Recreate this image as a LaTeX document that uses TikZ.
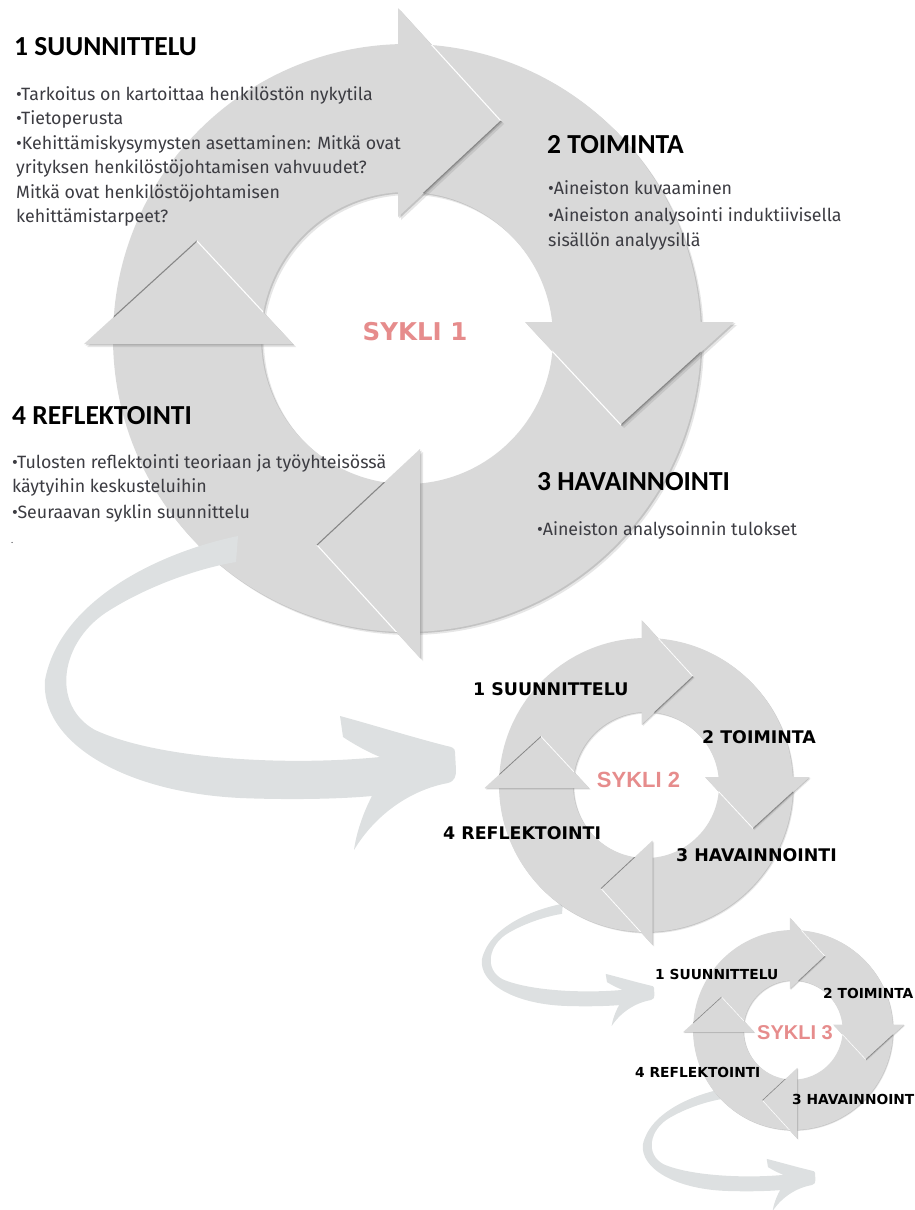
\documentclass[tikz,border=0pt]{standalone}
\usepackage{fontspec}
\setmainfont{Fira Sans}
\newfontfamily\headfont{Carlito}
\newfontfamily\labelfont{DejaVu Sans}
\newfontfamily\namefont{Liberation Sans}
\newfontfamily\bodyfont{Fira Sans}

\definecolor{ringgray}{RGB}{217,217,217}
\definecolor{swooshgray}{RGB}{221,224,225}
\definecolor{shadowgray}{RGB}{90,90,90}
\definecolor{edgedark}{RGB}{135,135,135}
\definecolor{bodygray}{RGB}{60,60,66}
\definecolor{syklipink}{RGB}{230,140,140}

\tikzset{
  heading/.style={anchor=base west, inner sep=0pt, text=black,
    font=\headfont\bfseries\fontsize{27.5}{30}\selectfont},
  bodytext/.style={anchor=base west, inner sep=0pt, text=bodygray,
    font=\bodyfont\fontsize{17.8}{20}\selectfont},
  midlabel/.style={anchor=base west, inner sep=0pt, text=black,
    font=\labelfont\bfseries\fontsize{17.4}{19}\selectfont},
  smalllabel/.style={anchor=base west, inner sep=0pt, text=black,
    font=\labelfont\bfseries\fontsize{13.8}{15}\selectfont},
  cyclename/.style={anchor=base, inner sep=0pt, text=syklipink},
}

% one ring of four curved arrows; #1,#2 centre, #3 scale, #4 edge line width
\newcommand{\cyclering}[4]{%
\begin{scope}[shift={(#1,#2)}, yscale=-1, scale=#3]
  % soft drop shadow of the ring
  \fill[shadowgray, opacity=.15, even odd rule, shift={(3,-3)}] (0,0) circle (294) (0,0) circle (146);
  \fill[shadowgray, opacity=.25, even odd rule, shift={(1.4,-1.4)}] (0,0) circle (294) (0,0) circle (146);
  \fill[ringgray, even odd rule] (0,0) circle (294) (0,0) circle (146);
  \begin{scope}[shift={(2,5)}]
    \foreach \k in {0,1,2,3}{
      \fill[shadowgray, opacity=.15, shift={(3,-3)}, rotate=-90*\k] (-11,325) -- (92,212) -- (-11,116) -- cycle;
      \fill[shadowgray, opacity=.25, shift={(1.4,-1.4)}, rotate=-90*\k] (-11,325) -- (92,212) -- (-11,116) -- cycle;
    }
    \foreach \k in {0,1,2,3}{
      \fill[ringgray, rotate=-90*\k] (-11,325) -- (92,212) -- (-11,116) -- cycle;
    }
  \end{scope}
  % bevel lines on the arrowheads, only where they lie over the ring
  \begin{scope}
    \clip (294,0) arc[start angle=0, end angle=360, radius=294] -- cycle
          (146,0) arc[start angle=360, end angle=0, radius=146] -- cycle;
    \begin{scope}[shift={(2,5)}]
      \foreach \k/\oc/\ic in {0/white/edgedark, 1/edgedark/white, 2/white/edgedark, 3/edgedark/white}{
        \draw[\oc, line width=#4, rotate=-90*\k] (-11,325) -- (92,212);
        \draw[\ic, line width=#4, rotate=-90*\k] (92,212) -- (-11,116);
      }
    \end{scope}
  \end{scope}
\end{scope}}

% sweeping arrow leading to the next cycle; #1,#2 arrow front, #3,#4 scales
\newcommand{\swoosh}[4]{%
  \fill[swooshgray, shift={(#1,#2)}, xscale=#3, yscale=#4]
    (-217,-229) .. controls (-295,-213) and (-395,-165) .. (-410,-85)
    .. controls (-415,-25) and (-335,27) .. (-215,33)
    .. controls (-165,35) and (-115,34) .. (-83,31)
    .. controls (-93,50) and (-99,70) .. (-101,85)
    .. controls (-80,50) and (-45,25) .. (-7,18)
    .. controls (0,16) and (1,11) .. (1,5)
    -- (0,-13) .. controls (0,-17) and (-3,-18) .. (-8,-19)
    .. controls (-40,-27) and (-85,-41) .. (-115,-49)
    -- (-112,-28) .. controls (-100,-20) and (-87,-13) .. (-75,-8)
    .. controls (-165,1) and (-295,-5) .. (-360,-35)
    .. controls (-405,-60) and (-395,-125) .. (-345,-155)
    .. controls (-305,-180) and (-255,-197) .. (-219,-203)
    -- cycle;}

\begin{document}
\begin{tikzpicture}[x=1pt, y=-1pt]
\useasboundingbox (0,0) rectangle (915,1210);

% arrows behind the small cycles
\swoosh{654}{993}{0.42}{0.39}
\swoosh{815}{1178}{0.42}{0.39}

% cycle 1
\cyclering{407}{338}{1}{1.1pt}
\swoosh{455}{765}{1}{1}

% cycles 2 and 3
\cyclering{646}{785}{0.5}{0.8pt}
\cyclering{793}{1030}{0.34}{0.6pt}

% cycle 1 texts
\node[heading] (h1) at (14,55) {1 SUUNNITTELU};
\node[bodytext] (b1a) at (16,100) {•Tarkoitus on kartoittaa henkilöstön nykytila};
\node[bodytext] (b1b) at (16,124.5) {•Tietoperusta};
\node[bodytext] (b1c) at (16,149) {•Kehittämiskysymysten asettaminen: Mitkä ovat};
\node[bodytext] (b1d) at (16,173.5) {yrityksen henkilöstöjohtamisen vahvuudet?};
\node[bodytext] (b1e) at (16,198) {Mitkä ovat henkilöstöjohtamisen};
\node[bodytext] (b1f) at (16,222.5) {kehittämistarpeet?};

\node[heading] (h2) at (547,153) {2 TOIMINTA};
\node[bodytext] (b2a) at (548,194) {•Aineiston kuvaaminen};
\node[bodytext] (b2b) at (548,221) {•Aineiston analysointi induktiivisella};
\node[bodytext] (b2c) at (548,246) {sisällön analyysillä};

\node[heading] (h3) at (537,490) {3 HAVAINNOINTI};
\node[bodytext] (b3a) at (537,535) {•Aineiston analysoinnin tulokset};

\node[heading] (h4) at (12,424) {4 REFLEKTOINTI};
\node[bodytext] (b4a) at (12,468) {•Tulosten reflektointi teoriaan ja työyhteisössä};
\node[bodytext] (b4b) at (12,492) {käytyihin keskusteluihin};
\node[bodytext] (b4c) at (12,518) {•Seuraavan syklin suunnittelu};
\node[bodytext, font=\bodyfont\fontsize{9}{10}\selectfont] (b4d) at (11,543) {.};

\node[cyclename, font=\labelfont\bfseries\fontsize{24.5}{26}\selectfont] (s1) at (415,340) {SYKLI 1};

% cycle 2 texts
\node[midlabel] (c2a) at (473,695.5) {1 SUUNNITTELU};
\node[midlabel] (c2b) at (702,743.5) {2 TOIMINTA};
\node[midlabel] (c2c) at (676,861.5) {3 HAVAINNOINTI};
\node[midlabel] (c2d) at (443,839.5) {4 REFLEKTOINTI};
\node[cyclename, font=\namefont\bfseries\fontsize{22}{24}\selectfont] (s2) at (638.5,787) {SYKLI 2};

% cycle 3 texts
\node[smalllabel] (c3a) at (655,979) {1 SUUNNITTELU};
\node[smalllabel] (c3b) at (823,998) {2 TOIMINTA};
\node[smalllabel] (c3c) at (792,1104) {3 HAVAINNOINTI};
\node[smalllabel] (c3d) at (635,1077) {4 REFLEKTOINTI};
\node[cyclename, font=\namefont\bfseries\fontsize{20}{22}\selectfont] (s3) at (795,1039) {SYKLI 3};
\end{tikzpicture}
\end{document}
